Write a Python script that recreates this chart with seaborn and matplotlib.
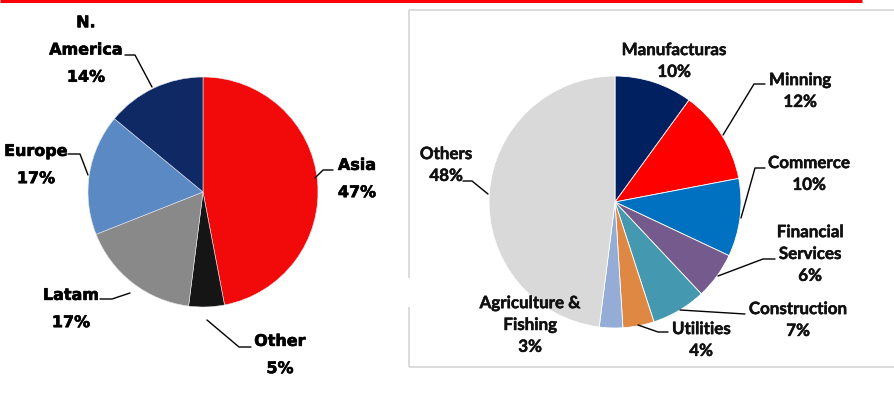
import matplotlib
matplotlib.use("Agg")
import matplotlib.pyplot as plt
import matplotlib.patheffects as pe
import seaborn as sns

# Exports by destination region
region_labels = ["Asia", "Other", "Latam", "Europe", "N.\nAmerica"]
region_values = [47, 5, 17, 17, 14]
region_colors = ["#F20A0A", "#151515", "#898989", "#5A89C4", "#0E2964"]

# Exports by economic sector
sector_labels = ["Manufacturas", "Minning", "Commerce", "Financial\nServices",
                 "Construction", "Utilities", "Agriculture &\nFishing", "Others"]
sector_values = [10, 12, 10, 6, 7, 4, 3, 48]
sector_colors = ["#002060", "#FF0000", "#0070C0", "#745A8D",
                 "#4499B0", "#DE8843", "#95ADD6", "#D9D9D9"]

sns.set_theme(style="white")
plt.rcParams["font.family"] = ["DejaVu Sans"]

W, H = 894, 398
fig = plt.figure(figsize=(W / 100, H / 100), dpi=100)
ax = fig.add_axes([0, 0, 1, 1])
ax.set_xlim(0, W)
ax.set_ylim(0, H)
ax.set_aspect("equal")
ax.axis("off")


def py(y):
    return H - y


# top rule and the frame around the sector panel
ax.plot([0, 862], [py(1), py(1)], color="#FF0000", lw=2.2, solid_capstyle="butt")
frame = dict(color="#D9D9D9", lw=1.3, solid_capstyle="butt")
ax.plot([409, 894], [py(10), py(10)], **frame)
ax.plot([409, 894], [py(367), py(367)], **frame)
ax.plot([409, 409], [py(10), py(278)], **frame)
ax.plot([409, 409], [py(307), py(367)], **frame)

# left pie
ax.pie(region_values, colors=region_colors, startangle=90, counterclock=False,
       center=(203, py(192)), radius=115, frame=True,
       wedgeprops=dict(linewidth=0.4, edgecolor="#E8E8F0"))

left_text = dict(fontsize=11.5, fontweight="bold", color="black",
                 ha="center", va="center", linespacing=2.02,
                 family=["DejaVu Sans"],
                 path_effects=[pe.withStroke(linewidth=0.45, foreground="black")])
left_pos = [(357, 179), (280, 355), (71, 309), (36, 165), (86, 50)]
left_lines = [
    [(333, 170), (323, 170), (315, 178)],
    [(251, 347), (239, 347), (207, 320)],
    [(100, 299), (112, 299), (130, 293)],
    [(68, 154), (80, 154), (88, 175)],
    [(125, 55), (135, 55), (152, 87)],
]
for lab, val, (x, y), pts in zip(region_labels, region_values, left_pos, left_lines):
    ax.text(x, py(y), f"{lab}\n{val}%", **left_text)
    xs, ys = zip(*pts)
    ax.plot(xs, [py(v) for v in ys], color="black", lw=1.0)

# right pie
ax.pie(sector_values, colors=sector_colors, startangle=90, counterclock=False,
       center=(615, py(202)), radius=126, frame=True,
       wedgeprops=dict(linewidth=0.6, edgecolor="white"))

right_text = dict(fontsize=12.2, fontweight="bold", color="#111111",
                  ha="center", va="center", linespacing=1.45,
                  family=["Lato", "DejaVu Sans"],
                  path_effects=[pe.withStroke(linewidth=0.35, foreground="#111111")])
right_pos = [(674, 61), (800, 91), (809, 174), (810, 254),
             (798, 320), (701, 340), (530, 325), (446, 165)]
right_lines = [
    None,
    [(765, 84), (754, 84), (723, 135)],
    [(765, 168), (755, 168), (741, 218)],
    [(775, 259), (763, 259), (718, 276)],
    [(745, 314), (680, 310)],
    [(668, 332), (658, 332), (638, 325)],
    None,
    [(463, 181), (472, 181), (488, 194)],
]
for lab, val, (x, y), pts in zip(sector_labels, sector_values, right_pos, right_lines):
    ax.text(x, py(y), f"{lab}\n{val}%", **right_text)
    if pts:
        xs, ys = zip(*pts)
        ax.plot(xs, [py(v) for v in ys], color="black", lw=1.0)

ax.set_xlim(0, W)
ax.set_ylim(0, H)
ax.axis("off")
fig.savefig("out.png", dpi=100)
